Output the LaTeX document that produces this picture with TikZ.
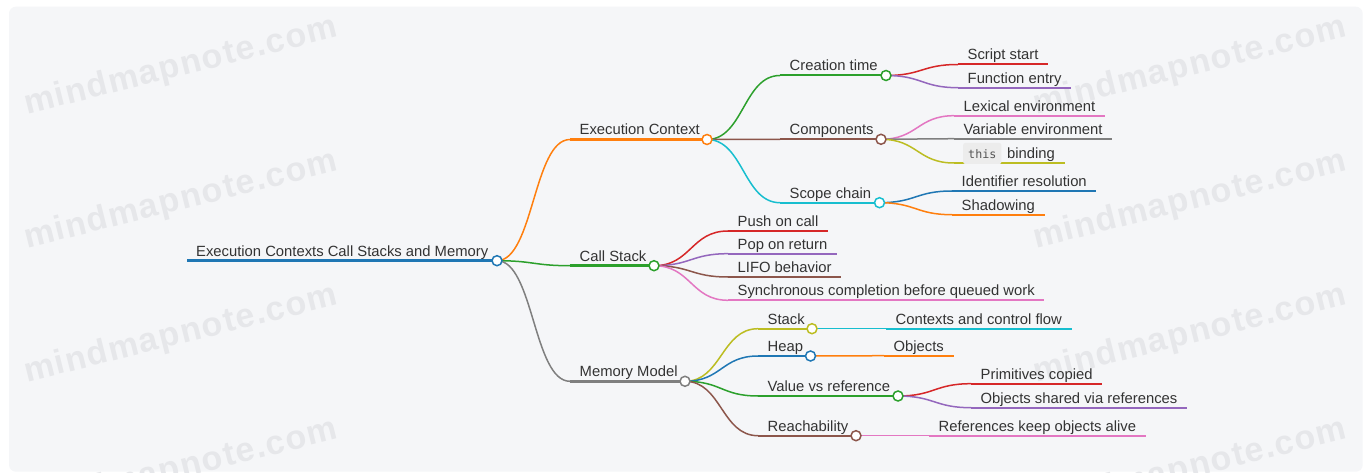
\documentclass[tikz,border=0pt]{standalone}
\usepackage{fontspec}
\setmainfont{Liberation Sans}
\newfontfamily\codefont{DejaVu Sans Mono}
\newfontfamily\wmfont[LetterSpace=4]{Liberation Sans Bold}
\usetikzlibrary{calc}

\definecolor{c-blue}{HTML}{1F77B4}
\definecolor{c-orange}{HTML}{FF7F0E}
\definecolor{c-green}{HTML}{2CA02C}
\definecolor{c-red}{HTML}{D62728}
\definecolor{c-purple}{HTML}{9467BD}
\definecolor{c-brown}{HTML}{8C564B}
\definecolor{c-pink}{HTML}{E377C2}
\definecolor{c-gray}{HTML}{7F7F7F}
\definecolor{c-olive}{HTML}{BCBD22}
\definecolor{c-cyan}{HTML}{17BECF}
\definecolor{txt}{HTML}{333333}
\definecolor{panel}{HTML}{F5F6F8}
\definecolor{wmcol}{HTML}{E6E7EA}
\definecolor{codebg}{HTML}{ECECEC}
\definecolor{codetxt}{HTML}{555555}

\tikzset{
  lbl/.style={anchor=base west, inner sep=0pt, text=txt,
    font=\fontsize{14.8}{17}\selectfont},
  dot/.style={circle, draw=#1, fill=white, line width=1.5pt,
    minimum size=10pt, inner sep=0pt},
  uline/.style={line width=2pt},
  wm/.style={text=wmcol, inner sep=0pt, rotate=14,
    font=\wmfont\fontsize{34}{36}\selectfont},
}

% curved connector from a parent dot to the start of a child's underline
\newcommand\mmlink[4][1.5]{%
  \draw[line width=#1pt,#4] let \p1=(#2),\p2=(#3) in
    (\p1) .. controls ({(\x1+\x2)/2},\y1) and ({(\x1+\x2)/2},\y2) .. (\p2);}

% branch with a dot: [width] name, parent, colour, start x, y, dot x, label
\newcommand\branch[8][2]{%
  \coordinate (#2-s) at (#5,#6);
  \coordinate (#2) at (#7,#6);
  \node[lbl] (#2-t) at ({#5+9.5},{#6-4.5}) {#8};
  \mmlink{#3}{#2-s}{#4}
  \draw[uline,line width=#1pt,#4] (#2-s) -- (#2);}

% leaf: name, parent, colour, start x, y, label
\newcommand\leaf[6]{%
  \coordinate (#1-s) at (#4,#5);
  \node[lbl] (#1-t) at ({#4+9.5},{#5-4.5}) {#6};
  \mmlink{#2}{#1-s}{#3}
  \draw[uline,#3] (#1-s) -- ($(#1-s -| #1-t.east)+(9.5,0)$);}

\begin{document}
\begin{tikzpicture}[x=1pt,y=-1pt]
\useasboundingbox (0,0) rectangle (1363,473);
\fill[white] (0,0) rectangle (1363,473);
\fill[panel, rounded corners=7pt] (9,6.7) rectangle (1362.7,471.7);

% watermark
\foreach \i/\wx/\wy in {1/181/67, 2/181/201, 3/181/335, 4/181/469,
                        5/1190/67, 6/1190/201, 7/1190/335, 8/1190/469}
  \node[wm] (wm\i) at (\wx,\wy) {mindmapnote.com};

% root
\coordinate (root-s) at (187,260.7);
\coordinate (root) at (497,260.7);
\node[lbl] (root-t) at (196,256) {Execution Contexts Call Stacks and Memory};
\draw[c-blue, line width=3.2pt] (root-s) -- (root);

% first level
\branch[2.5]{ec}{root}{c-orange}{570}{139.5}{707}{Execution Context}
\branch[2.5]{cs}{root}{c-green}{570}{265.7}{654}{Call Stack}
\branch[2.5]{mm}{root}{c-gray}{570}{381.3}{685}{Memory Model}

% execution context
\branch{ct}{ec}{c-green}{780}{75.5}{886}{Creation time}
\branch{co}{ec}{c-brown}{780}{139.3}{881}{Components}
\branch{sc}{ec}{c-cyan}{780}{202.7}{879.5}{Scope chain}

\leaf{ss}{ct}{c-red}{958}{64.5}{Script start}
\leaf{fe}{ct}{c-purple}{958}{87.7}{Function entry}

\leaf{le}{co}{c-pink}{954}{115.7}{Lexical environment}
\leaf{ve}{co}{c-gray}{954}{138.7}{Variable environment}
% this binding (inline code label)
\coordinate (tb-s) at (954,163);
\mmlink{co}{tb-s}{c-olive}
\node[lbl] (tb-t) at (1007,158.5) {binding};
\draw[uline,c-olive] (tb-s) -- ($(tb-s -| tb-t.east)+(9.5,0)$);
\node[anchor=base west, fill=codebg, rounded corners=2pt, inner xsep=5pt,
  inner ysep=0pt, text height=15.5pt, text depth=5.5pt, text=codetxt,
  font=\codefont\fontsize{11.7}{14}\selectfont] (tb-code) at (963,158.5) {this};

\leaf{ir}{sc}{c-blue}{952}{191}{Identifier resolution}
\leaf{sh}{sc}{c-orange}{952}{214.7}{Shadowing}

% call stack
\leaf{pu}{cs}{c-red}{728}{231}{Push on call}
\leaf{po}{cs}{c-purple}{728}{253.7}{Pop on return}
\leaf{li}{cs}{c-brown}{728}{277}{LIFO behavior}
\leaf{sy}{cs}{c-pink}{728}{300.3}{Synchronous completion before queued work}

% memory model
\branch{st}{mm}{c-olive}{758}{328.7}{812}{Stack}
\branch{he}{mm}{c-blue}{758}{356}{810.5}{Heap}
\branch{vr}{mm}{c-green}{758}{396}{898}{Value vs reference}
\branch{re}{mm}{c-brown}{758}{435.7}{856}{Reachability}

\leaf{cf}{st}{c-cyan}{886}{328.7}{Contexts and control flow}
\leaf{ob}{he}{c-orange}{884}{355.7}{Objects}
\leaf{pc}{vr}{c-red}{971}{383.7}{Primitives copied}
\leaf{os}{vr}{c-purple}{971}{407.7}{Objects shared via references}
\leaf{rk}{re}{c-pink}{929}{435.7}{References keep objects alive}

% dots on top of the connectors
\foreach \n/\c in {root/c-blue, ec/c-orange, cs/c-green, mm/c-gray,
                   ct/c-green, co/c-brown, sc/c-cyan,
                   st/c-olive, he/c-blue, vr/c-green, re/c-brown}
  \node[dot=\c] (\n-dot) at (\n) {};
\end{tikzpicture}
\end{document}
